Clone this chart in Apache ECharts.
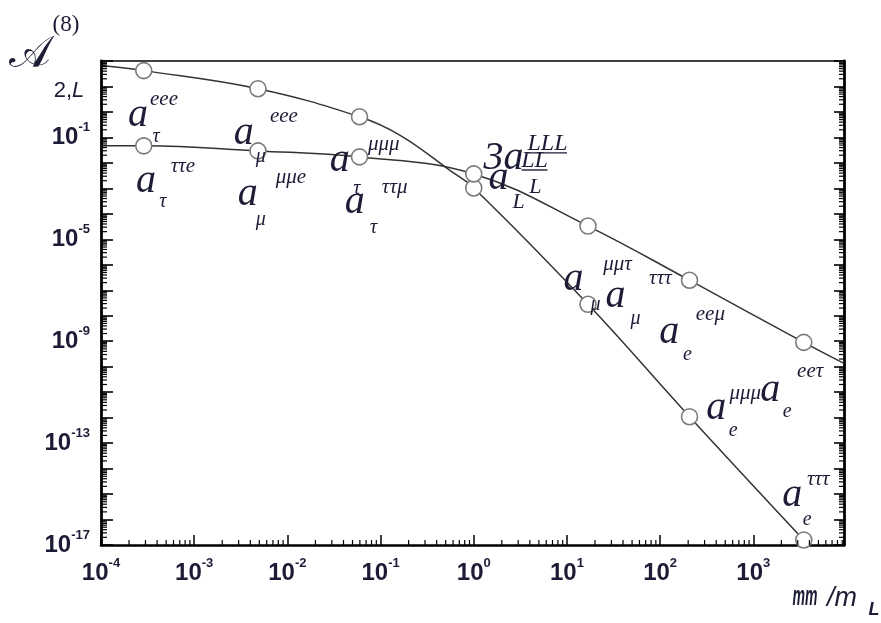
<!DOCTYPE html>
<html>
<head>
<meta charset="utf-8">
<script src="https://cdn.jsdelivr.net/npm/echarts@6/dist/echarts.min.js"></script>
<style>
  html, body { margin: 0; padding: 0; background: #ffffff; }
  #chart { width: 881px; height: 623px; }
</style>
</head>
<body>
<div id="chart"></div>
<script>
// Mass ratios m_l / m_L at which the coefficients are marked
const ratioPoints = [2.876e-4, 4.836e-3, 0.05946, 1, 16.82, 206.77, 3477];

// Steep curve: values at the marked ratios
const steepMarked = [41.9, 8.19, 0.647, 1.04e-3, 2.81e-8, 1.09e-12, 1.58e-17];
// Flat curve: values at the marked ratios
const flatMarked = [0.0467, 0.0296, 0.0172, 3.69e-3, 3.31e-5, 2.48e-7, 8.98e-10];

// Further readings along each curve, away from the marked points
const steepExtraX = [1e-4, 0.164, 0.564];
const steepExtraY = [65.9, 0.118, 4.84e-3];
const flatExtraX = [1e-4, 9400];
const flatExtraY = [0.0467, 1.34e-10];

// Decades that carry a tick label
const xLabelExponents = [-4, -3, -2, -1, 0, 1, 2, 3];
const yLabelExponents = [-17, -13, -9, -5, -1];

// Axis extents
const X_MIN = 1e-4, X_MAX = 9400;
const Y_MIN = 1e-17, Y_MAX = 1e2;

// Curve labels: anchor of the large "a" given as [log10 x, log10 y],
// superscript / subscript placed by pixel offsets from it
const curveLabels = [
  { at: [-3.603, -0.346], base: 'a', sup: 'eee', sub: '\u03c4', supOff: [26, -19], subOff: [18, 18] },
  { at: [-3.518, -2.945], base: 'a', sup: '\u03c4\u03c4e', sub: '\u03c4', supOff: [37, -18], subOff: [17, 17] },
  { at: [-2.467, -1.055], base: 'a', sup: 'eee', sub: '\u03bc', supOff: [40, -20], subOff: [17, 20] },
  { at: [-2.424, -3.417], base: 'a', sup: '\u03bc\u03bce', sub: '\u03bc', supOff: [43, -20], subOff: [13, 23] },
  { at: [-1.438, -2.118], base: 'a', sup: '\u03bc\u03bc\u03bc', sub: '\u03c4', supOff: [44, -19], subOff: [17, 25] },
  { at: [-1.278, -3.732], base: 'a', sup: '\u03c4\u03c4\u03bc', sub: '\u03c4', supOff: [40, -18], subOff: [19, 23] },
  { at: [0.319, -2.039], base: '3a', sup: 'LLL', sub: 'L', supOff: [44, -20], subOff: [32, 23], underline: true },
  { at: [0.266, -2.827], base: 'a', sup: 'LL', sub: 'L', supOff: [36, -23], subOff: [20, 18], underline: true },
  { at: [1.070, -6.764], base: 'a', sup: '\u03bc\u03bc\u03c4', sub: '\u03bc', supOff: [44, -18], subOff: [22, 22] },
  { at: [1.520, -7.433], base: 'a', sup: '\u03c4\u03c4\u03c4', sub: '\u03bc', supOff: [45, -21], subOff: [20, 19] },
  { at: [2.099, -8.850], base: 'a', sup: 'ee\u03bc', sub: 'e', supOff: [41, -21], subOff: [18, 19] },
  { at: [2.602, -11.843], base: 'a', sup: '\u03bc\u03bc\u03bc', sub: 'e', supOff: [29, -18], subOff: [17, 19] },
  { at: [3.181, -11.134], base: 'a', sup: 'ee\u03c4', sub: 'e', supOff: [40, -22], subOff: [17, 18] },
  { at: [3.417, -15.268], base: 'a', sup: '\u03c4\u03c4\u03c4', sub: 'e', supOff: [26, -19], subOff: [15, 21] }
];

const INK = '#1c1c36';
const LINE = '#333333';
const SANS = '"Liberation Sans", Arial, sans-serif';
const SERIF = '"Liberation Serif", "Times New Roman", serif';

// Merge marked and extra readings into one sorted polyline; only marked points get a circle
function buildCurve(markedY, extraX, extraY) {
  const pts = ratioPoints.map((x, i) => ({ x: x, y: markedY[i], mark: true }));
  extraX.forEach((x, i) => pts.push({ x: x, y: extraY[i], mark: false }));
  pts.sort((a, b) => a.x - b.x);
  return pts.map(p => p.mark
    ? { value: [p.x, p.y] }
    : { value: [p.x, p.y], symbol: 'none' });
}

function isDecade(v) {
  const e = Math.log10(v);
  return Math.abs(e - Math.round(e)) < 1e-6;
}
function decadeLabel(v, shown) {
  if (!isDecade(v)) return '';
  const e = Math.round(Math.log10(v));
  if (shown.indexOf(e) < 0) return '';
  return '{b|10}{s|' + e + '}';
}
const tickRich = {
  b: { fontFamily: SANS, fontWeight: 'bold', fontSize: 24, color: INK },
  s: { fontFamily: SANS, fontWeight: 'bold', fontSize: 13, color: INK, padding: [0, 0, 20, 0] }
};

// Logarithmic minor tick values (2..9 times each decade)
function minorValues(lo, hi) {
  const out = [];
  for (let e = Math.floor(Math.log10(lo)); e <= Math.ceil(Math.log10(hi)); e++) {
    for (let k = 2; k <= 9; k++) {
      const v = k * Math.pow(10, e);
      if (v > lo && v < hi) out.push(v);
    }
  }
  return out;
}
const xMinor = minorValues(X_MIN, X_MAX);
const yMinor = minorValues(Y_MIN, Y_MAX);

const curveStyle = {
  type: 'line',
  xAxisIndex: 0,
  yAxisIndex: 0,
  smooth: 0.4,
  symbol: 'circle',
  symbolSize: 16,
  showAllSymbol: true,
  lineStyle: { color: LINE, width: 1.5 },
  itemStyle: { color: '#ffffff', borderColor: '#7a7a7a', borderWidth: 1.6 },
  emphasis: { disabled: true },
  z: 3
};

const chart = echarts.init(document.getElementById('chart'), null, { renderer: 'canvas' });

chart.setOption({
  animation: false,
  backgroundColor: '#ffffff',
  grid: { left: 101, right: 37, top: 61, bottom: 78, containLabel: false, outerBoundsMode: 'none' },
  xAxis: [
    {
      type: 'log', min: X_MIN, max: X_MAX, position: 'bottom',
      splitLine: { show: false },
      axisLine: { show: true, lineStyle: { color: '#000', width: 2.6 } },
      axisTick: { show: true, inside: true, length: 10, lineStyle: { color: '#000', width: 1.5 } },
      axisLabel: {
        margin: 12,
        formatter: v => decadeLabel(v, xLabelExponents),
        rich: tickRich,
        showMinLabel: true, showMaxLabel: true
      }
    },
    {
      type: 'log', min: X_MIN, max: X_MAX, position: 'top',
      splitLine: { show: false },
      axisLine: { show: true, lineStyle: { color: '#000', width: 1.5 } },
      axisTick: { show: false },
      axisLabel: { show: false }
    }
  ],
  yAxis: [
    {
      type: 'log', min: Y_MIN, max: Y_MAX, interval: 1, splitNumber: 19, position: 'left',
      splitLine: { show: false },
      axisLine: { show: true, lineStyle: { color: '#000', width: 2.8 } },
      axisTick: { show: true, inside: true, length: 12, lineStyle: { color: '#000', width: 1.6 } },
      axisLabel: {
        margin: 11,
        formatter: v => decadeLabel(v, yLabelExponents),
        rich: tickRich,
        showMinLabel: true, showMaxLabel: true
      }
    },
    {
      type: 'log', min: Y_MIN, max: Y_MAX, interval: 1, splitNumber: 19, position: 'right',
      splitLine: { show: false },
      axisLine: { show: true, lineStyle: { color: '#000', width: 2.8 } },
      axisTick: { show: true, inside: true, length: 10, lineStyle: { color: '#000', width: 1.6 } },
      axisLabel: { show: false }
    }
  ],
  series: [
    Object.assign({}, curveStyle, { name: 'steep', data: buildCurve(steepMarked, steepExtraX, steepExtraY) }),
    Object.assign({}, curveStyle, { name: 'flat', data: buildCurve(flatMarked, flatExtraX, flatExtraY) }),
    {
      // logarithmic minor ticks on the frame
      type: 'custom',
      xAxisIndex: 0,
      yAxisIndex: 0,
      silent: true,
      z: 4,
      data: [[1, 1]],
      renderItem: function (params, api) {
        const cs = params.coordSys;
        const kids = [];
        const tickStyle = { stroke: '#000', lineWidth: 1.2 };
        xMinor.forEach(v => {
          const px = api.coord([v, 1])[0];
          kids.push({ type: 'line', shape: { x1: px, y1: cs.y + cs.height, x2: px, y2: cs.y + cs.height - 5 }, style: tickStyle });
        });
        yMinor.forEach(v => {
          const py = api.coord([1, v])[1];
          kids.push({ type: 'line', shape: { x1: cs.x, y1: py, x2: cs.x + 6, y2: py }, style: tickStyle });
          kids.push({ type: 'line', shape: { x1: cs.x + cs.width, y1: py, x2: cs.x + cs.width - 5, y2: py }, style: tickStyle });
        });
        return { type: 'group', children: kids };
      }
    }
  ]
});

// Text annotations placed through the grid's coordinate conversion
const graphics = [];
function addText(x, y, text, size, opts) {
  graphics.push(Object.assign({
    type: 'text', x: x, y: y, silent: true, z: 10,
    style: Object.assign({
      text: text, fill: INK, font: 'italic ' + size + 'px ' + SERIF,
      align: 'center', verticalAlign: 'middle'
    }, opts || {})
  }));
}

curveLabels.forEach(lab => {
  const p = chart.convertToPixel({ gridIndex: 0 }, [Math.pow(10, lab.at[0]), Math.pow(10, lab.at[1])]);
  const baseSize = 40;
  addText(p[0], p[1] - 5, lab.base, baseSize);
  const isCap = lab.sup.charAt(0) === 'L';
  const supSize = isCap ? 24 : 21;
  const subSize = isCap ? 22 : 20;
  const sx = p[0] + lab.supOff[0], sy = p[1] + lab.supOff[1];
  addText(sx, sy - (isCap ? 0 : 2), lab.sup, supSize);
  addText(p[0] + lab.subOff[0], p[1] + lab.subOff[1] - (isCap ? 0 : 2), lab.sub, subSize);
  if (lab.underline) {
    const half = lab.sup.length * 6.5;
    graphics.push({
      type: 'line', silent: true, z: 10,
      shape: { x1: sx - half, y1: sy + 9, x2: sx + half, y2: sy + 9 },
      style: { stroke: INK, lineWidth: 1.4 }
    });
  }
});

// Vertical axis title: A^(8)_{2,L}
graphics.push({
  type: 'text', x: 30, y: 56, silent: true,
  style: { text: '\ud835\udc9c', fill: INK, font: '44px "DejaVu Serif", serif', align: 'center', verticalAlign: 'middle' }
});
graphics.push({
  type: 'text', x: 66, y: 25, silent: true,
  style: { text: '(8)', fill: INK, font: '23px ' + SERIF, align: 'center', verticalAlign: 'middle' }
});
graphics.push({
  type: 'text', x: 69, y: 91, silent: true,
  style: {
    text: '{n|2,}{l|L}', align: 'center', verticalAlign: 'middle',
    rich: {
      n: { fill: INK, color: INK, font: '22px ' + SANS },
      l: { fill: INK, color: INK, font: 'italic 22px ' + SANS }
    }
  }
});

// Horizontal axis title: m_l / m_L
graphics.push({
  type: 'text', x: 805, y: 598, scaleX: 0.52, silent: true,
  style: { text: 'mm', fill: INK, font: 'italic bold 27px ' + SANS, align: 'center', verticalAlign: 'middle' }
});
graphics.push({
  type: 'text', x: 842, y: 598, silent: true,
  style: { text: '/m', fill: INK, font: 'italic 27px ' + SANS, align: 'center', verticalAlign: 'middle' }
});
graphics.push({
  type: 'text', x: 874, y: 610, silent: true,
  style: { text: 'L', fill: INK, font: 'italic bold 18px ' + SANS, align: 'center', verticalAlign: 'middle' }
});

chart.setOption({ graphic: { elements: graphics } });
</script>
</body>
</html>
